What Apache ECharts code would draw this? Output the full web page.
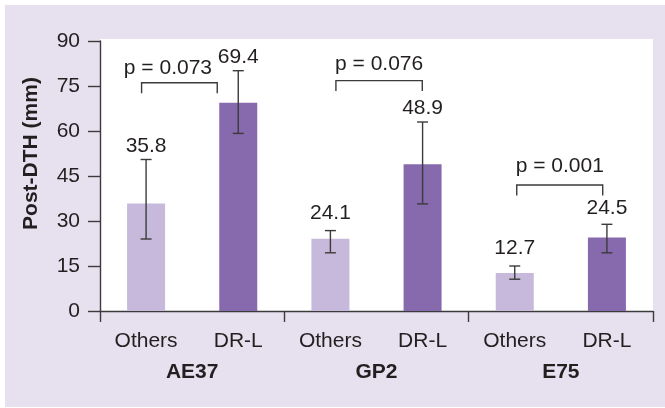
<!DOCTYPE html>
<html>
<head>
<meta charset="utf-8">
<script src="https://cdn.jsdelivr.net/npm/echarts@6/dist/echarts.min.js"></script>
<style>
  html, body { margin: 0; padding: 0; background: #ffffff; }
  #chart { width: 665px; height: 408px; }
</style>
</head>
<body>
<div id="chart"></div>
<script>
// Post-DTH by genotype group: Others vs DR-L
const groups = ['AE37', 'GP2', 'E75'];
const categories = ['Others', 'DR-L', 'Others', 'DR-L', 'Others', 'DR-L'];
const othersMeans = [35.8, 24.1, 12.7];
const drlMeans = [69.4, 48.9, 24.5];
// error bar extents [low, high]
const othersErr = [[24.0, 50.5], [19.4, 26.8], [10.6, 15.0]];
const drlErr = [[59.2, 80.1], [35.7, 63.0], [19.4, 28.9]];
const pValues = ['p = 0.073', 'p = 0.076', 'p = 0.001'];
const bracketLevels = [76.1, 76.8, 42.0];
const yTicks = [0, 15, 30, 45, 60, 75, 90];
const yTitle = 'Post-DTH (mm)';

// drawing styles
const FONT = "'Liberation Sans', Arial, Helvetica, sans-serif";
const INK = '#231f20';
const LINE = '#3b3b3b';
const LIGHT = '#c7b9db';
const DARK = '#8769ad';
const valueLift = [2.5, 3, 7, 3, 7, 5.5];
const bracketInset = [[-4.5, -21], [5.5, -0.3], [2, -4.2]];
const pShift = [-11.5, 0, 0];
const pLift = [4, 6, 8.7];

// flatten into per-bar rows
const means = [], errs = [];
groups.forEach((g, i) => {
  means.push(othersMeans[i], drlMeans[i]);
  errs.push(othersErr[i], drlErr[i]);
});

const chart = echarts.init(document.getElementById('chart'), null, { renderer: 'canvas' });

const option = {
  animation: false,
  backgroundColor: '#ffffff',
  graphic: {
    elements: [
      { type: 'rect', z: -100, shape: { x: 5, y: 5, width: 660, height: 402 }, style: { fill: '#e6e0ef' } },
      { type: 'rect', z: -90, shape: { x: 100, y: 39, width: 553, height: 272 }, style: { fill: '#ffffff' } },
      {
        type: 'text', x: 31, y: 153.5, rotation: Math.PI / 2,
        style: { text: yTitle, font: 'bold 21px ' + FONT, fill: INK, align: 'center', verticalAlign: 'middle' }
      }
    ]
  },
  grid: { left: 100, right: 12, top: 41, bottom: 97, containLabel: false },
  xAxis: [
    {
      type: 'category', data: categories, position: 'bottom',
      axisLine: { show: true, lineStyle: { color: LINE, width: 1.4 } },
      axisTick: { show: false },
      axisLabel: { margin: 19.5, fontSize: 21, fontFamily: FONT, color: INK, interval: 0 }
    },
    {
      type: 'category', data: groups, position: 'bottom',
      axisLine: { show: false },
      axisTick: { show: true, length: 11, lineStyle: { color: LINE, width: 1.4 } },
      axisLabel: { margin: 51, fontSize: 21, fontWeight: 'bold', fontFamily: FONT, color: INK, interval: 0 }
    }
  ],
  yAxis: {
    type: 'value', min: yTicks[0], max: yTicks[yTicks.length - 1], interval: yTicks[1] - yTicks[0],
    axisLine: { show: true, lineStyle: { color: LINE, width: 1.4 } },
    axisTick: { show: true, length: 12, lineStyle: { color: LINE, width: 1.4 } },
    axisLabel: { margin: 20, fontSize: 21, fontFamily: FONT, color: INK },
    splitLine: { show: false }
  },
  series: [
    {
      type: 'bar', xAxisIndex: 0, barWidth: 38,
      data: means.map((v, i) => ({ value: v, itemStyle: { color: i % 2 === 0 ? LIGHT : DARK } })),
      z: 2
    },
    {
      // error bars with the mean printed above each
      type: 'custom', xAxisIndex: 0, z: 3,
      encode: { x: 0, y: [1, 2] },
      data: errs.map((e, i) => [i, e[0], e[1], means[i]]),
      renderItem(params, api) {
        const i = api.value(0);
        const lo = api.coord([i, api.value(1)]);
        const hi = api.coord([i, api.value(2)]);
        const cap = 5.5;
        const st = { stroke: LINE, lineWidth: 1.4 };
        return {
          type: 'group',
          children: [
            { type: 'line', shape: { x1: hi[0], y1: hi[1], x2: lo[0], y2: lo[1] }, style: st },
            { type: 'line', shape: { x1: hi[0] - cap, y1: hi[1], x2: hi[0] + cap, y2: hi[1] }, style: st },
            { type: 'line', shape: { x1: lo[0] - cap, y1: lo[1], x2: lo[0] + cap, y2: lo[1] }, style: st },
            {
              type: 'text',
              style: {
                text: String(api.value(3)), x: hi[0], y: hi[1] - valueLift[i],
                align: 'center', verticalAlign: 'bottom', font: '21px ' + FONT, fill: INK
              }
            }
          ]
        };
      }
    },
    {
      // significance brackets
      type: 'custom', xAxisIndex: 0, z: 3,
      encode: { x: [0, 1], y: 2 },
      data: groups.map((g, k) => [2 * k, 2 * k + 1, bracketLevels[k], k]),
      renderItem(params, api) {
        const k = api.value(3);
        const a = api.coord([api.value(0), api.value(2)]);
        const b = api.coord([api.value(1), api.value(2)]);
        const x1 = a[0] + bracketInset[k][0];
        const x2 = b[0] + bracketInset[k][1];
        const y = a[1];
        const leg = 10.5;
        return {
          type: 'group',
          children: [
            {
              type: 'polyline',
              shape: { points: [[x1, y + leg], [x1, y], [x2, y], [x2, y + leg]] },
              style: { stroke: LINE, lineWidth: 1.4, fill: 'none' }
            },
            {
              type: 'text',
              style: {
                text: pValues[k], x: (x1 + x2) / 2 + pShift[k], y: y - pLift[k],
                align: 'center', verticalAlign: 'bottom', font: '21px ' + FONT, fill: INK
              }
            }
          ]
        };
      }
    }
  ]
};

chart.setOption(option);
</script>
</body>
</html>
